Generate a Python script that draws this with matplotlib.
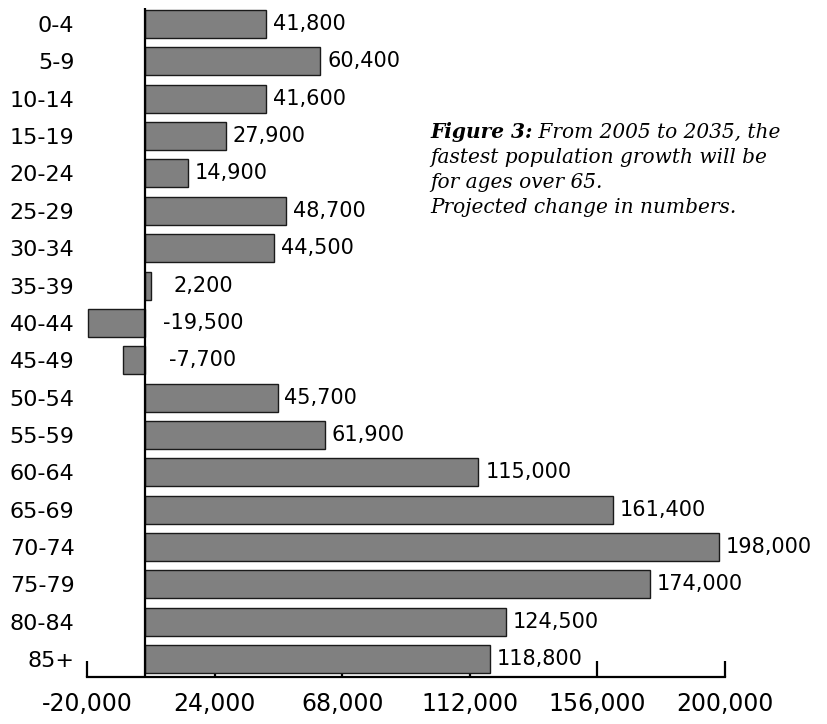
import numpy as np
import matplotlib
matplotlib.use("Agg")
import matplotlib.pyplot as plt

ages = ["0-4", "5-9", "10-14", "15-19", "20-24", "25-29", "30-34", "35-39",
        "40-44", "45-49", "50-54", "55-59", "60-64", "65-69", "70-74",
        "75-79", "80-84", "85+"]
change = [41800, 60400, 41600, 27900, 14900, 48700, 44500, 2200,
          -19500, -7700, 45700, 61900, 115000, 161400, 198000,
          174000, 124500, 118800]
xticks = [-20000, 24000, 68000, 112000, 156000, 200000]

caption_bold = "Figure 3:"
caption_lines = [" From 2005 to 2035, the",
                 "fastest population growth will be",
                 "for ages over 65.",
                 "Projected change in numbers."]

plt.rcParams['font.family'] = ['DejaVu Sans']

fig = plt.figure(figsize=(8.28, 7.24), dpi=100)
ax = fig.add_axes([87/828, 1 - 677/724, 638/828, 669/724])

y = np.arange(len(ages))
ax.barh(y, change, height=0.75, color='#808080', edgecolor='#1a1a1a',
        linewidth=1.0, zorder=3)
ax.axvline(0, color='black', linewidth=1.6, zorder=4)

# value labels
for yi, v in zip(y, change):
    txt = f"{v:,}"
    if v < 10000:
        ax.text(20000, yi, txt, ha='center', va='center', fontsize=15, zorder=5)
    else:
        ax.annotate(txt, xy=(v, yi), xytext=(5, 0), textcoords='offset points',
                    ha='left', va='center', fontsize=15, zorder=5)

ax.set_xlim(-20000, 200000)
ax.set_ylim(len(ages) - 1 + 0.48, -0.43)
ax.set_yticks(y)
ax.set_yticklabels(ages, fontsize=16)
ax.set_xticks(xticks)
ax.set_xticklabels([f"{t:,}" for t in xticks], fontsize=17)

ax.tick_params(axis='y', length=0, pad=9)
ax.tick_params(axis='x', direction='in', length=11.5, width=1.6, pad=11)
for s in ['top', 'right', 'left']:
    ax.spines[s].set_visible(False)
ax.spines['bottom'].set_linewidth(1.6)
ax.set_axisbelow(True)

# caption
cap = dict(fontsize=14.5, family='DejaVu Serif', style='italic')
t1 = fig.text(430/828, 1 - 138/724, caption_bold, weight='bold', va='baseline', **cap)
ax.annotate(caption_lines[0], xy=(1, 0), xycoords=t1, va='bottom', ha='left', **cap)
for i, line in enumerate(caption_lines[1:]):
    fig.text(430/828, 1 - (163 + 25 * i)/724, line, va='baseline', **cap)

fig.savefig("out.png", dpi=100)
